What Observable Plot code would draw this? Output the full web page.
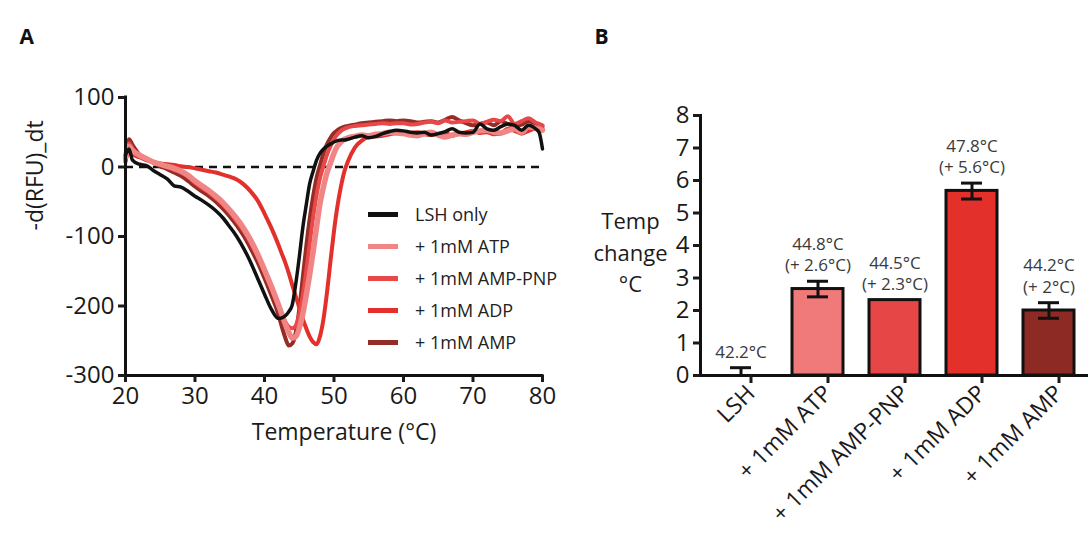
<!DOCTYPE html>
<html>
<head>
<meta charset="utf-8">
<script src="https://cdn.jsdelivr.net/npm/d3@7"></script>
<script src="https://cdn.jsdelivr.net/npm/@observablehq/plot@0.6"></script>
<style>
  html, body { margin: 0; padding: 0; background: #fff; overflow: hidden; }
  #wrap { position: relative; width: 1088px; height: 533px; font-family: "Open Sans", sans-serif; }
  #panelA { position: absolute; left: 0; top: 0; }
  #panelB { position: absolute; left: 560px; top: 0; }
  #legend { position: absolute; left: 368px; top: 198px; font-size: 18px; color: #222; }
  .row { display: flex; align-items: center; height: 32px; }
  .sw { display: inline-block; width: 30px; height: 5px; margin-right: 17px; }
</style>
</head>
<body>
<div id="wrap">
  <div id="panelA"></div>
  <div id="panelB"></div>
  <div id="legend"></div>
</div>
<script>
// ---------- Panel A data ----------
const temps = [20, 20.5, 21, 22, 23, 24, 25, 26, 27, 28, 29, 30, 31, 32, 33, 34, 35, 36, 37, 38, 39, 40, 41,
  42, 42.5, 43, 43.5, 44, 44.5, 45, 45.5, 46, 46.5, 47, 47.5, 48, 48.5, 49, 49.5, 50, 50.5, 51, 51.5, 52,
  53, 54, 55, 56, 57, 58, 59, 60, 61, 62, 63, 64, 65, 66, 67, 68, 69, 70, 71, 72, 73, 74, 75, 76, 77, 78, 79, 79.5, 80];

const lshOnly = [17, 26, 10, 4, 2, -5, -11, -17, -27, -29, -35, -42, -48, -55, -63, -73, -86, -100, -117, -137, -160, -183, -205,
  -218, -217, -214, -208, -198, -168, -130, -88, -55, -24, -6, 10, 20, 26, 30, 33, 36, 38, 39, 39, 40,
  43, 45, 42, 44, 48, 51, 53, 52, 50, 49, 50, 46, 48, 51, 55, 50, 49, 50, 62, 55, 53, 58, 62, 60, 53, 60, 55, 50, 26];

const atp = [14, 30, 24, 17, 12, 7, 4, 1, -2, -6, -12, -20, -27, -34, -42, -51, -62, -74, -88, -105, -125, -148, -172,
  -198, -212, -226, -238, -246, -244, -232, -212, -185, -155, -122, -86, -52, -28, -8, 6, 20, 30, 36, 40, 42,
  44, 46, 45, 47, 48, 50, 49, 48, 46, 45, 48, 50, 46, 43, 46, 48, 47, 50, 52, 53, 50, 49, 52, 55, 50, 58, 56, 55, 53];

const ampPnp = [12, 34, 26, 17, 12, 7, 3, 0, -4, -8, -14, -23, -30, -37, -45, -54, -65, -78, -92, -109, -129, -151, -175,
  -200, -212, -223, -230, -232, -228, -212, -185, -150, -110, -72, -40, -15, 2, 18, 30, 40, 47, 52, 55, 57,
  59, 60, 61, 62, 63, 62, 63, 63, 61, 62, 64, 65, 63, 67, 64, 65, 66, 67, 62, 65, 68, 66, 73, 62, 66, 70, 64, 62, 60];

const adp = [7, 25, 19, 14, 10, 7, 5, 4, 3, 1, 0, -2, -4, -6, -8, -11, -14, -18, -25, -35, -48, -67, -88,
  -112, -125, -138, -153, -170, -186, -202, -218, -232, -244, -252, -255, -243, -218, -180, -135, -92, -56, -28, -6, 8,
  28, 38, 43, 44, 45, 47, 49, 50, 49, 50, 47, 46, 48, 49, 45, 48, 50, 52, 49, 50, 47, 48, 55, 52, 48, 52, 55, 54, 55];

const amp = [10, 40, 32, 18, 12, 6, 1, -3, -8, -13, -20, -28, -35, -42, -50, -60, -71, -84, -99, -117, -137, -160, -185,
  -212, -230, -246, -257, -254, -238, -205, -160, -115, -75, -42, -15, 3, 20, 33, 42, 49, 53, 56, 58, 59,
  61, 63, 64, 65, 66, 67, 66, 67, 66, 64, 65, 66, 64, 68, 72, 67, 63, 60, 62, 64, 60, 66, 62, 59, 61, 66, 62, 60, 58];

const seriesNames = ["LSH only", "+ 1mM ATP", "+ 1mM AMP-PNP", "+ 1mM ADP", "+ 1mM AMP"];
const seriesValues = [lshOnly, atp, ampPnp, adp, amp];
const seriesColors = ["#111111", "#f18585", "#e84848", "#e3302a", "#962c26"];
const seriesWidths = [3.5, 5.5, 4, 4, 4];
const drawOrder = [4, 3, 2, 1, 0];

const xTicksA = [20, 30, 40, 50, 60, 70, 80];
const yTicksA = [-300, -200, -100, 0, 100];

// ---------- Panel B data ----------
const barCats = ["LSH", "+ 1mM ATP", "+ 1mM AMP-PNP", "+ 1mM ADP", "+ 1mM AMP"];
const barValues = [0, 2.66, 2.32, 5.68, 2.0];
const errLow = [0, 2.42, null, 5.43, 1.76];
const errHigh = [0.24, 2.9, null, 5.92, 2.24];
const barLabels = ["42.2°C", "44.8°C\n(+ 2.6°C)", "44.5°C\n(+ 2.3°C)", "47.8°C\n(+ 5.6°C)", "44.2°C\n(+ 2°C)"];
const barColors = ["#ffffff", "#f07a7a", "#e64646", "#e3302a", "#8e2a24"];
const yTicksB = [0, 1, 2, 3, 4, 5, 6, 7, 8];

// ---------- Build tables ----------
const curveRows = [];
seriesNames.forEach((name, s) => {
  temps.forEach((t, i) => curveRows.push({series: name, T: t, v: seriesValues[s][i]}));
});

const bars = barCats.map((c, i) => ({
  cat: c, value: barValues[i], lo: errLow[i], hi: errHigh[i],
  label: barLabels[i], color: barColors[i],
  top: errHigh[i] != null ? errHigh[i] : barValues[i]
}));
const errs = bars.filter(d => d.lo != null);

const font = "Open Sans";
const plain = d => String(d);

// ---------- Panel A ----------
const lineMarks = drawOrder.map(s => Plot.line(curveRows.filter(d => d.series === seriesNames[s]), {
  x: "T", y: "v", stroke: seriesColors[s], strokeWidth: seriesWidths[s], curve: "monotone-x",
  strokeLinejoin: "round", strokeLinecap: "round"
}));

const plotA = Plot.plot({
  width: 560, height: 533,
  marginLeft: 125, marginRight: 18, marginTop: 97, marginBottom: 158,
  style: {fontFamily: font, color: "#1a1a1a", background: "transparent", overflow: "visible"},
  x: {domain: [20, 80], label: null},
  y: {domain: [-300, 100], label: null},
  marks: [
    Plot.ruleY([0], {stroke: "#111", strokeWidth: 2.5, strokeDasharray: "8,6"}),
    ...lineMarks,
    Plot.ruleX([20], {stroke: "#111", strokeWidth: 3, strokeLinecap: "square"}),
    Plot.ruleY([-300], {stroke: "#111", strokeWidth: 3, strokeLinecap: "square"}),
    Plot.axisX({ticks: xTicksA, tickFormat: plain, tickSize: 7, tickPadding: 4, fontSize: 24, strokeWidth: 3, label: null}),
    Plot.axisY({ticks: yTicksA, tickFormat: plain, tickSize: 7, tickPadding: 4, fontSize: 24, strokeWidth: 3, label: null}),
    Plot.text(["-d(RFU)_dt"], {frameAnchor: "left", rotate: -90, dx: -90, dy: -6, fontSize: 23, fill: "#1a1a1a"}),
    Plot.text(["Temperature (°C)"], {frameAnchor: "bottom", dx: 10, dy: 64, fontSize: 23, fill: "#1a1a1a"}),
    Plot.text(["A"], {frameAnchor: "top-left", dx: -106, dy: -68, fontSize: 21, fontWeight: "bold", fill: "#111"})
  ]
});
document.getElementById("panelA").appendChild(plotA);

// Legend
const legend = document.getElementById("legend");
seriesNames.forEach((name, s) => {
  const row = document.createElement("div");
  row.className = "row";
  const sw = document.createElement("span");
  sw.className = "sw";
  sw.style.background = seriesColors[s];
  const tx = document.createElement("span");
  tx.textContent = name;
  row.appendChild(sw);
  row.appendChild(tx);
  legend.appendChild(row);
});

// ---------- Panel B ----------
const plotB = Plot.plot({
  width: 528, height: 533,
  marginLeft: 140, marginRight: 0, marginTop: 115, marginBottom: 158,
  style: {fontFamily: font, color: "#1a1a1a", background: "transparent", overflow: "visible"},
  x: {type: "band", domain: barCats, paddingInner: 0.343, paddingOuter: 0.1715, align: 0.5, label: null},
  y: {domain: [0, 8], label: null},
  marks: [
    Plot.barY(bars, {x: "cat", y: "value", fill: "color", stroke: "#111", strokeWidth: 3}),
    Plot.ruleX(errs, {x: "cat", y1: "lo", y2: "hi", stroke: "#111", strokeWidth: 3}),
    Plot.tickY(errs, {x: "cat", y: "hi", stroke: "#111", strokeWidth: 3, insetLeft: 15, insetRight: 15}),
    Plot.tickY(errs, {x: "cat", y: "lo", stroke: "#111", strokeWidth: 3, insetLeft: 15, insetRight: 15}),
    Plot.frame({anchor: "left", stroke: "#111", strokeWidth: 3}),
    Plot.ruleY([0], {stroke: "#111", strokeWidth: 3}),
    Plot.axisY({ticks: yTicksB, tickSize: 7, tickPadding: 4, fontSize: 24, strokeWidth: 3, label: null}),
    Plot.axisX({tickSize: 8, tickPadding: 6, tickRotate: -45, dx: 10, fontSize: 23, strokeWidth: 3, label: null}),
    Plot.text(bars, {x: "cat", y: "top", text: "label", lineAnchor: "bottom", dy: -10, fontSize: 17, lineHeight: 1.25, fill: "#3a3a3a"}),
    Plot.text(["Temp\nchange\n°C"], {frameAnchor: "left", dx: -70, dy: 5, fontSize: 22, lineHeight: 1.42, textAnchor: "middle", fill: "#1a1a1a"}),
    Plot.text(["B"], {frameAnchor: "top-left", dx: -106, dy: -86, fontSize: 21, fontWeight: "bold", fill: "#111"})
  ]
});
document.getElementById("panelB").appendChild(plotB);
</script>
</body>
</html>
